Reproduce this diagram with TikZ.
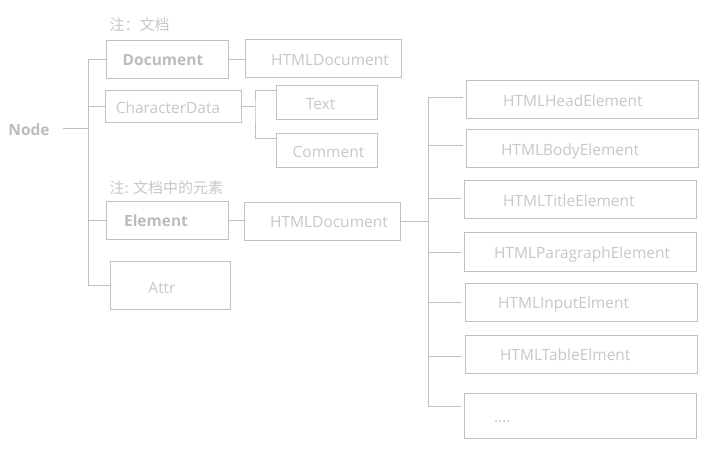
\documentclass[tikz,border=0pt]{standalone}
\usepackage{fontspec}
\usepackage{tikz}
\usepackage{xcolor}
\setmainfont{Open Sans}
\newfontfamily\cjk{Noto Sans CJK SC}
\definecolor{linegray}{RGB}{192,192,192}
\definecolor{textgray}{RGB}{200,198,198}
\definecolor{boldgray}{RGB}{188,188,188}
\newcommand\moredots{....}

\begin{document}
\begin{tikzpicture}[x=1pt,y=-1pt,line width=1pt,
  box/.style={draw=linegray,inner sep=0pt},
  lbl/.style={inner sep=0pt,text height=13pt,text depth=0pt,text=textgray,font=\fontsize{15.5}{18}\selectfont},
  bold/.style={lbl,text=boldgray,font=\fontsize{15.5}{18}\selectfont\bfseries},
  note/.style={inner sep=0pt,text=textgray,font=\cjk\fontsize{15}{17}\selectfont},
  wire/.style={draw=linegray}]
  \useasboundingbox (0,0) rectangle (725,454);

  \node[bold] (root) at (29,129) {Node};
  \coordinate (trunk) at (88,129);

  \node[note,anchor=west] (note1) at (109,25) {注：文档};
  \node[note,anchor=west] (note2) at (109,188) {注: 文档中的元素};

  \node[box,minimum width=122pt,minimum height=38pt,label={[bold,xshift=-4pt,yshift=1pt]center:Document}] (doc) at (167,60) {};
  \node[box,minimum width=156pt,minimum height=38pt,label={[lbl,xshift=7pt]center:HTMLDocument}] (hdoc) at (323,59) {};
  \node[box,minimum width=136pt,minimum height=32pt,label={[lbl,xshift=-5pt]center:CharacterData}] (cdata) at (173,107) {};
  \node[box,minimum width=101pt,minimum height=34pt,label={[lbl,xshift=-6pt]center:Text}] (txt) at (326.5,103) {};
  \node[box,minimum width=101pt,minimum height=34pt,label={[lbl,xshift=2pt]center:Comment}] (cmt) at (326.5,151) {};
  \node[box,minimum width=122pt,minimum height=38pt,label={[bold,xshift=-11pt]center:Element}] (elem) at (167,220.5) {};
  \node[box,minimum width=156pt,minimum height=38pt,label={[lbl,xshift=7pt]center:HTMLDocument}] (hdocb) at (322,221.5) {};
  \node[box,minimum width=120pt,minimum height=47pt,label={[lbl,xshift=-8pt,yshift=-2pt]center:Attr}] (attr) at (170,285.5) {};

  \draw[wire] ([xshift=13pt]root.east) -- (trunk);
  \draw[wire] (doc.west -| trunk) -- (attr.west -| trunk);
  \foreach \b in {doc,cdata,elem,attr}
    \draw[wire] (\b.west -| trunk) -- (\b.west);

  \draw[wire] (doc.east) -- (doc.east -| hdoc.west);
  \coordinate (cj) at (255,107);
  \draw[wire] (cdata.east) -- (cj);
  \draw[wire] ([yshift=12pt]txt.west) -| (cj) |- ([yshift=12pt]cmt.west);

  \draw[wire] (elem.east) -- (elem.east -| hdocb.west);
  \coordinate (rtrunk) at (428,221.5);
  \draw[wire] (hdocb.east) -- (rtrunk);

  \foreach \nm/\x/\y/\h/\dx/\bs/\txt in {head/582/100/38/37/2/HTMLHeadElement,
      body/582/149/38/35/3/HTMLBodyElement, title/580/200/38/39/1/HTMLTitleElement,
      para/580/252/38/30/-1/HTMLParagraphElement, input/581/302/38/33/0/HTMLInputElment,
      table/581/354/38/35/-2/HTMLTableElment, more/580/415.5/45/30/9.5/\moredots}{
    \node[box,minimum width=232pt,minimum height=\h pt,label={[lbl,anchor=west,xshift=\dx pt]west:\txt}] (\nm) at (\x,\y) {};
    \draw[wire] ([yshift=\bs pt]\nm.west -| rtrunk) -- ([yshift=\bs pt,xshift=-3pt]\nm.west);
  }
  \draw[wire] ([yshift=2pt]head.west -| rtrunk) -- ([yshift=9.5pt]more.west -| rtrunk);
\end{tikzpicture}
\end{document}
